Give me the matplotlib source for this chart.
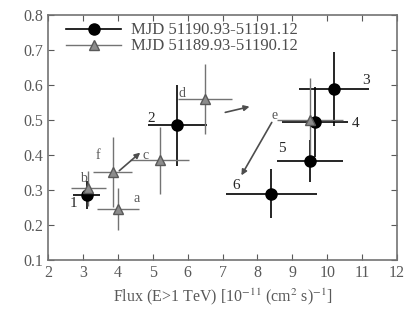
import matplotlib
matplotlib.use('Agg')
import matplotlib.pyplot as plt, numpy as np
from matplotlib.lines import Line2D

# MJD 51190.93-51191.12 (filled circles, labelled 1-6)
flux1 = [3.1, 5.7, 10.2, 9.65, 9.5, 8.4]
flux1_err = [0.4, 0.85, 1.0, 0.95, 0.95, 1.3]
hr1 = [0.287, 0.485, 0.588, 0.495, 0.383, 0.29]
hr1_err = [0.04, 0.115, 0.105, 0.1, 0.06, 0.07]
labels1 = ['1', '2', '3', '4', '5', '6']
lab1_pos = [(2.72, 0.262), (4.95, 0.505), (11.1, 0.612), (10.8, 0.49), (8.7, 0.42), (7.4, 0.312)]

# MJD 51189.93-51190.12 (triangles, labelled a-f)
flux2 = [4.0, 3.15, 5.2, 6.5, 9.5, 3.85]
flux2_err = [0.6, 0.5, 0.85, 0.77, 0.95, 0.55]
hr2 = [0.245, 0.305, 0.385, 0.56, 0.5, 0.352]
hr2_err = [0.06, 0.05, 0.095, 0.1, 0.12, 0.1]
labels2 = ['a', 'b', 'c', 'd', 'e', 'f']
lab2_pos = [(4.55, 0.277), (3.0, 0.333), (4.8, 0.40), (5.84, 0.577), (8.5, 0.513), (3.43, 0.40)]

# arrows showing the time sequence
arrows = [((3.98, 0.35), (4.7, 0.412)), ((7.0, 0.52), (7.85, 0.54)), ((8.45, 0.5), (7.5, 0.335))]

plt.rcParams['font.family'] = ['Liberation Serif', 'DejaVu Serif']
plt.rcParams['mathtext.fontset'] = 'stix'

fig = plt.figure(figsize=(4.08, 3.2), dpi=100, facecolor='w')
ax = fig.add_axes([0.118, 0.1875, 0.855, 0.7655])

ax.errorbar(flux1, hr1, xerr=flux1_err, yerr=hr1_err, fmt='o', c='k', ms=8,
            elinewidth=1.2, capsize=0)
ax.errorbar(flux2, hr2, xerr=flux2_err, yerr=hr2_err, fmt='^', c='0.45', mfc='0.55', mec='0.35',
            ms=6.5, elinewidth=1.0, capsize=0)

for t, (x, y) in zip(labels1, lab1_pos):
    ax.text(x, y, t, fontsize=11, ha='center', va='center', color='0.15')
for t, (x, y) in zip(labels2, lab2_pos):
    ax.text(x, y, t, fontsize=10, ha='center', va='center', color='0.35')

for start, end in arrows:
    ax.annotate('', xy=end, xytext=start,
                arrowprops=dict(arrowstyle='-|>', color='0.3', lw=1.2, mutation_scale=8))

ax.set_xlim(2, 12)
ax.set_ylim(0.1, 0.8)
ax.set_xticks(np.arange(2, 13, 1))
ax.set_yticks(np.arange(0.1, 0.81, 0.1))
ax.tick_params(direction='in', top=True, right=True, labelsize=11.5, colors='0.35', length=4)
for s in ax.spines.values():
    s.set_color('0.45')
    s.set_linewidth(1.2)
ax.set_xlabel(r'Flux (E>1 TeV) [10$^{-11}$ (cm$^2$ s)$^{-1}$]', fontsize=11.5, color='0.35')

handles = [Line2D([], [], color='k', marker='o', ms=8, lw=1.2),
           Line2D([], [], color='0.45', marker='^', mfc='0.55', mec='0.35', ms=6.5, lw=1.0)]
ax.legend(handles, ['MJD 51190.93-51191.12', 'MJD 51189.93-51190.12'], loc='upper left',
          bbox_to_anchor=(0, 1.045), frameon=False, fontsize=12, handlelength=3.3,
          borderaxespad=0.9, borderpad=0.2, labelspacing=0.0, handletextpad=0.6,
          labelcolor='0.3')

fig.savefig('out.png', dpi=100)
